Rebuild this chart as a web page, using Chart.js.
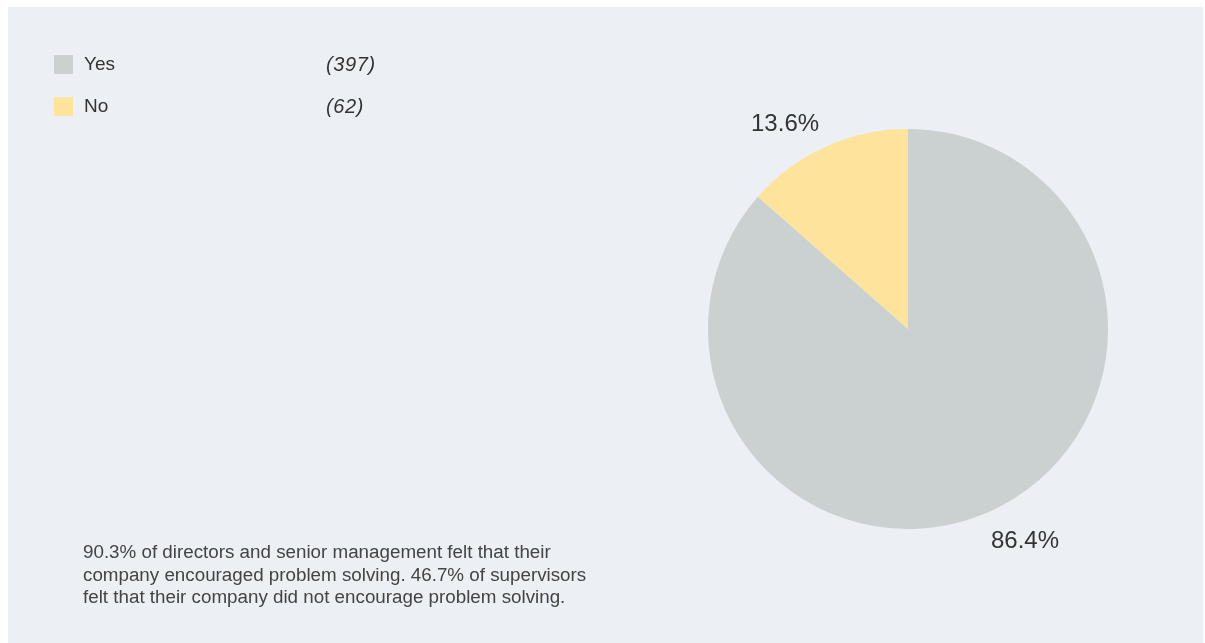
<!DOCTYPE html>
<html>
<head>
<meta charset="utf-8">
<script src="https://cdn.jsdelivr.net/npm/chart.js@4"></script>
<style>
    html, body { margin: 0; padding: 0; background: #ffffff; }
    #wrap { position: relative; width: 1205px; height: 643px; overflow: hidden; }
    #panel { position: absolute; left: 8px; top: 7px; width: 1195px; height: 640px; background: #eceff4; }
    #pieChart { position: absolute; left: 0; top: 0; }
    .legend { position: absolute; left: 54px; color: #333; font-family: "Liberation Sans", Arial, sans-serif; }
    .legend .sw { position: absolute; left: 0; top: 0; width: 19px; height: 19px; }
    .legend .lbl { position: absolute; left: 30px; top: -2px; white-space: nowrap; font-size: 19px; }
    .legend .cnt { position: absolute; left: 272px; top: -2px; font-style: italic; white-space: nowrap; font-size: 20px; letter-spacing: 0.6px; }
    #note { position: absolute; left: 83px; top: 541px; font-family: "Liberation Sans", Arial, sans-serif; font-size: 18.8px; line-height: 22.5px; color: #444; white-space: nowrap; }
</style>
</head>
<body>
<div id="wrap">
    <div id="panel"></div>
    <canvas id="pieChart" width="1205" height="643"></canvas>
    <div id="legend"></div>
    <div id="note"></div>
</div>
<script>
    // dados do gráfico
    const categories = ['Yes', 'No'];
    const counts = [397, 62];
    const percentLabels = ['86.4%', '13.6%'];
    const sliceColors = ['#cbd0d0', '#fde39c'];
    const noteLines = [
        '90.3% of directors and senior management felt that their',
        'company encouraged problem solving. 46.7% of supervisors',
        'felt that their company did not encourage problem solving.'
    ];

    // legenda em HTML
    const legendBox = document.getElementById('legend');
    categories.forEach((cat, i) => {
        legendBox.insertAdjacentHTML('beforeend', `
            <div class="legend" style="top:${55 + i * 42}px">
                <div class="sw" style="background:${sliceColors[i]}"></div>
                <span class="lbl">${cat}</span>
                <span class="cnt">(${counts[i]})</span>
            </div>`);
    });
    const note = document.getElementById('note');
    noteLines.forEach(line => {
        const div = document.createElement('div');
        div.textContent = line;
        note.appendChild(div);
    });

    // rótulos de porcentagem fora da pizza
    const outsideLabels = {
        id: 'outsideLabels',
        afterDatasetsDraw(chart) {
            const ctx = chart.ctx;
            const meta = chart.getDatasetMeta(0);
            ctx.save();
            ctx.font = '24px "Liberation Sans", Arial, sans-serif';
            ctx.fillStyle = '#333333';
            ctx.textBaseline = 'alphabetic';
            meta.data.forEach((arc, i) => {
                const mid = (arc.startAngle + arc.endAngle) / 2;
                const r = arc.outerRadius * 1.08;
                const x = arc.x + Math.cos(mid) * r;
                const y = arc.y + Math.sin(mid) * r;
                ctx.textAlign = x < arc.x ? 'right' : 'left';
                if (y < arc.y) {
                    ctx.fillText(percentLabels[i], x, y - 1);
                } else {
                    ctx.fillText(percentLabels[i], x - 6, y + 22);
                }
            });
            ctx.restore();
        }
    };

    const ctx = document.getElementById('pieChart').getContext('2d');
    const myChart = new Chart(ctx, {
        type: 'pie',
        data: {
            labels: categories,
            datasets: [{
                data: counts,
                backgroundColor: sliceColors,
                borderWidth: 0
            }]
        },
        options: {
            responsive: false,
            animation: false,
            layout: {
                padding: { left: 708, right: 97, top: 129, bottom: 114 }
            },
            plugins: {
                legend: { display: false },
                tooltip: { enabled: false }
            }
        },
        plugins: [outsideLabels]
    });
</script>
</body>
</html>
